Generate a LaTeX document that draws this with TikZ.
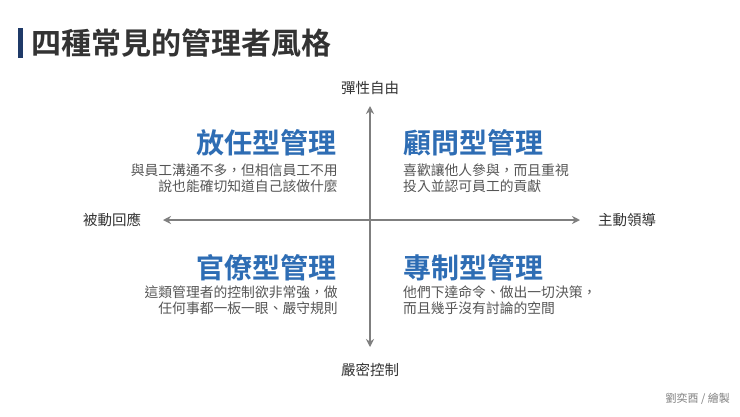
\documentclass[tikz,border=0pt]{standalone}
\usepackage{fontspec}
\newfontfamily\cjk{Noto Sans CJK TC}
\newfontfamily\cjkb{Noto Sans CJK TC Bold}
\definecolor{navy}{HTML}{1F3A68}
\definecolor{qblue}{HTML}{2E6DB4}
\definecolor{tgray}{HTML}{555555}
\definecolor{agray}{HTML}{7F7F7F}
\usetikzlibrary{arrows.meta}
\tikzset{
 qt/.style={font=\cjkb\fontsize{28}{30}\selectfont, text=qblue, inner sep=0},
 ds/.style={font=\cjk\fontsize{13.8}{16}\selectfont, text=tgray, inner sep=0, align=#1},
 ax/.style={font=\cjk\fontsize{14.5}{16}\selectfont, text=black!80, inner sep=0},
 arr/.style={draw=agray, line width=1.6pt, {Stealth[length=8pt,width=8pt]}-{Stealth[length=8pt,width=8pt]}}
}
\begin{document}
\begin{tikzpicture}[x=1pt,y=-1pt]
\useasboundingbox[fill=white] (0,0) rectangle (740,416);
\fill[navy] (18,28) rectangle (23,58);
\node[anchor=west, inner sep=0, font=\cjkb\fontsize{30}{32}\selectfont, text=black!80] (title) at (31,43) {四種常見的管理者風格};
\node[ax] (top) at (370,88) {彈性自由};
\node[ax] (bot) at (370,370) {嚴密控制};
\node[ax] (lft) at (112,220) {被動回應};
\node[ax] (rgt) at (627,220) {主動領導};
\coordinate (vt) at (370,106); \coordinate (vb) at (370,347);
\coordinate (hl) at (163,220); \coordinate (hr) at (580,220);
\draw[arr] (vt) -- (vb);
\draw[arr] (hl) -- (hr);
\node[qt] (q1) at (266,143) {放任型管理};
\node[qt] (q2) at (473,143) {顧問型管理};
\node[qt] (q3) at (266,268) {官僚型管理};
\node[qt] (q4) at (473,268) {專制型管理};
\node[ds=right, anchor=north east] (d1) at (338,164) {與員工溝通不多，但相信員工不用\\說也能確切知道自己該做什麼};
\node[ds=left, anchor=north west] (d2) at (403,164) {喜歡讓他人參與，而且重視\\投入並認可員工的貢獻};
\node[ds=right, anchor=north east] (d3) at (338,286) {這類管理者的控制欲非常強，做\\任何事都一板一眼、嚴守規則};
\node[ds=left, anchor=north west] (d4) at (403,286) {他們下達命令、做出一切決策，\\而且幾乎沒有討論的空間};
\node[anchor=east, inner sep=0, font=\cjk\fontsize{11}{12}\selectfont, text=agray] (ft) at (730,399) {劉奕酉 / 繪製};
\end{tikzpicture}
\end{document}
